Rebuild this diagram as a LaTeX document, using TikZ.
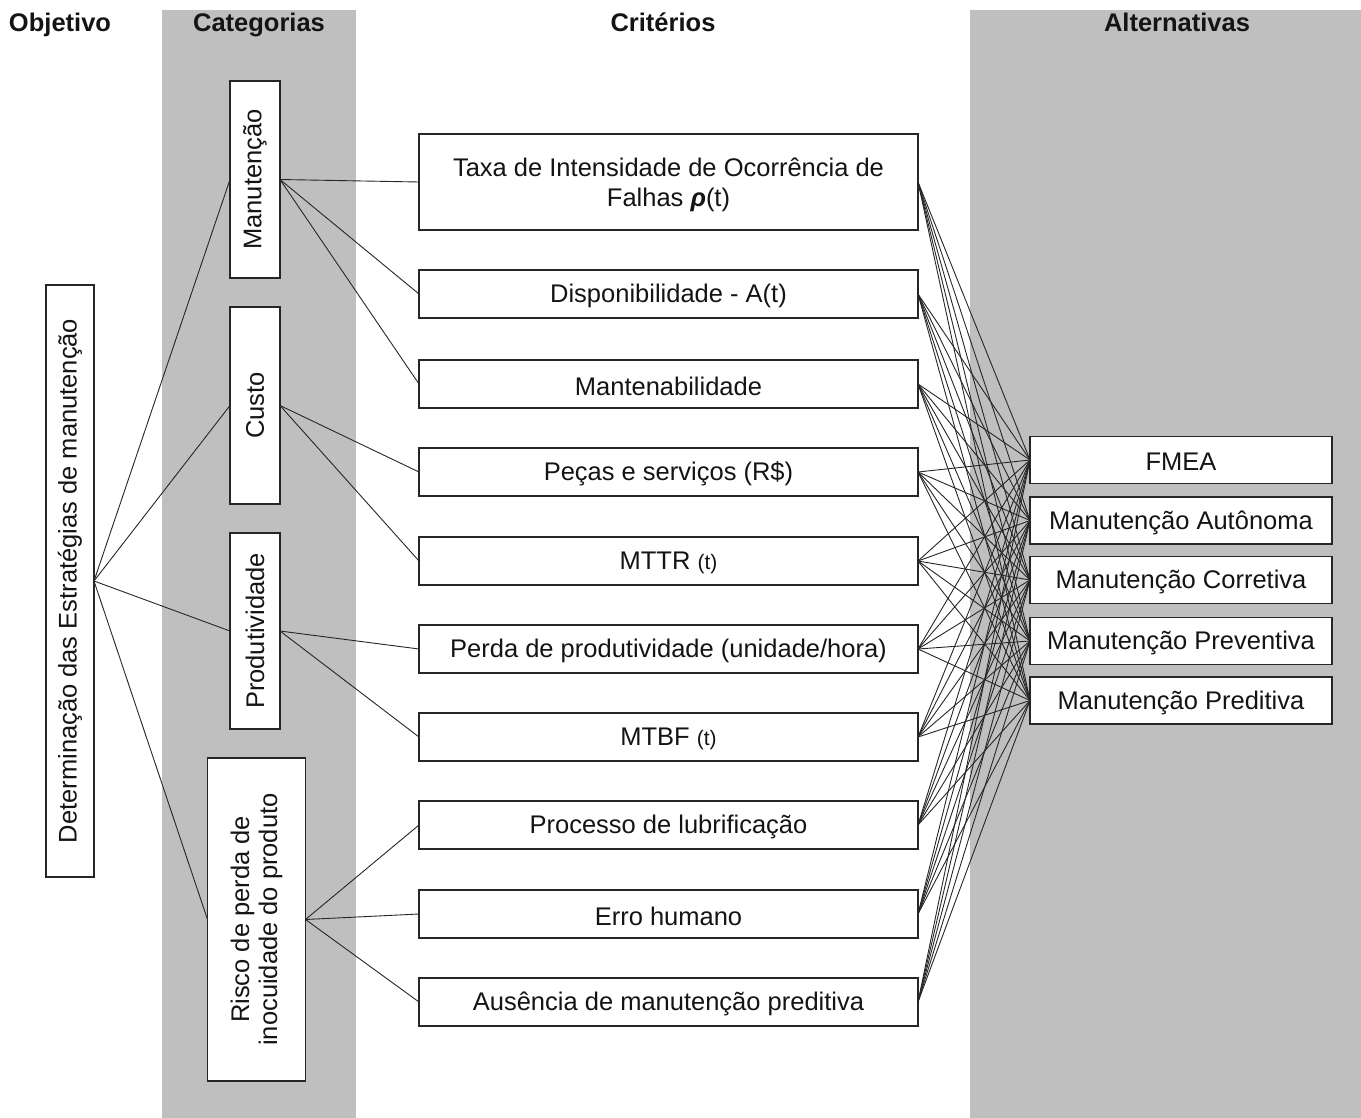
\documentclass[tikz,border=0pt]{standalone}
\usepackage{fontspec}
\setmainfont{Liberation Sans}
\definecolor{panel}{RGB}{191,191,191}
\definecolor{ink}{RGB}{20,20,20}
\begin{document}
\begin{tikzpicture}[x=1pt,y=-1pt,
  box/.style={draw=black!85,line width=1.4pt,fill=white,inner sep=0pt,outer sep=0pt},
  link/.style={draw=black!85,line width=0.9pt},
  head/.style={font=\fontsize{25.5}{30}\selectfont\bfseries,text=ink,inner sep=0pt,anchor=base},
  lbl/.style={font=\fontsize{25.5}{30}\selectfont,text=ink,inner sep=0pt,align=center,yshift=-2pt},
  vlbl/.style={font=\fontsize{25.5}{30}\selectfont,text=ink,inner sep=0pt,align=center,rotate=90},
  crit/.style={box,minimum width=499pt,minimum height=48pt},
  alt/.style={box,minimum width=302pt,minimum height=47pt},
  cat/.style={box,minimum width=50pt,minimum height=197pt}]

\path[use as bounding box] (0,0) rectangle (1361,1118);

% shaded columns
\fill[panel] (162,10) rectangle (356,1118);
\fill[panel] (970,10) rectangle (1361,1118);

% column headings
\node[head] (h-obj) at (60,32) {Objetivo};
\node[head] (h-cat) at (259,32) {Categorias};
\node[head] (h-cri) at (663,32) {Critérios};
\node[head] (h-alt) at (1177,32) {Alternativas};

% objective
\node[box,minimum width=48pt,minimum height=592pt] (obj) at (70,581) {};

% categories
\node[cat] (man) at (255,179.5) {};
\node[cat] (cus) at (255,405.5) {};
\node[cat,minimum height=196pt] (pro) at (255,631) {};
\node[box,minimum width=98pt,minimum height=323pt] (ris) at (256.5,919.5) {};

% criteria
\node[crit,minimum height=96pt] (c1) at (668.5,182) {};
\node[crit] (c2) at (668.5,294) {};
\node[crit] (c3) at (668.5,384) {};
\node[crit] (c4) at (668.5,472) {};
\node[crit] (c5) at (668.5,561) {};
\node[crit] (c6) at (668.5,649) {};
\node[crit] (c7) at (668.5,737) {};
\node[crit] (c8) at (668.5,825) {};
\node[crit] (c9) at (668.5,914) {};
\node[crit] (c10) at (668.5,1002) {};

% alternatives
\node[alt] (a1) at (1181,460) {};
\node[alt] (a2) at (1181,520.5) {};
\node[alt] (a3) at (1181,580) {};
\node[alt] (a4) at (1181,641) {};
\node[alt] (a5) at (1181,700.5) {};

% hierarchy links
\foreach \c in {man,cus,pro,ris} \draw[link] (obj.east) -- (\c.west);
\foreach \k in {c1,c2,c3} \draw[link] (man.east) -- (\k.west);
\foreach \k in {c4,c5} \draw[link] (cus.east) -- (\k.west);
\foreach \k in {c6,c7} \draw[link] (pro.east) -- (\k.west);
\foreach \k in {c8,c9,c10} \draw[link] (ris.east) -- (\k.west);
\foreach \k in {c1,c2,c3,c4,c5,c6,c7,c8,c9,c10}
  \foreach \a in {a1,a2,a3,a4,a5}
    \draw[link] (\k.east) -- (\a.west);

% redraw box outlines over the link ends
\foreach \n in {obj,man,cus,pro,ris,c1,c2,c3,c4,c5,c6,c7,c8,c9,c10,a1,a2,a3,a4,a5}
  \draw[draw=black!85,line width=1.4pt] (\n.north west) rectangle (\n.south east);

% labels
\node[vlbl] (t-obj) at (obj.center) {Determinação das Estratégias de manutenção};
\node[vlbl] (t-man) at (man.center) {Manutenção};
\node[vlbl] (t-cus) at (cus.center) {Custo};
\node[vlbl] (t-pro) at (pro.center) {Produtividade};
\node[vlbl,font=\fontsize{25.5}{28}\selectfont] (t-ris) at (ris.center) {Risco de perda de\\inocuidade do produto};

\node[lbl,yshift=-1pt] (t-c1) at (c1.center) {Taxa de Intensidade de Ocorrência de\\Falhas \textbf{\textit{ρ}}(t)};
\node[lbl] (t-c2) at (c2.center) {Disponibilidade - A(t)};
\node[lbl] (t-c3) at (c3.center) {Mantenabilidade};
\node[lbl] (t-c4) at (c4.center) {Peças e serviços (R\$)};
\node[lbl] (t-c5) at (c5.center) {MTTR {\fontsize{21}{24}\selectfont(t)}};
\node[lbl] (t-c6) at (c6.center) {Perda de produtividade (unidade/hora)};
\node[lbl] (t-c7) at (c7.center) {MTBF {\fontsize{21}{24}\selectfont(t)}};
\node[lbl] (t-c8) at (c8.center) {Processo de lubrificação};
\node[lbl] (t-c9) at (c9.center) {Erro humano};
\node[lbl] (t-c10) at (c10.center) {Ausência de manutenção preditiva};

\node[lbl] (t-a1) at (a1.center) {FMEA};
\node[lbl] (t-a2) at (a2.center) {Manutenção Autônoma};
\node[lbl] (t-a3) at (a3.center) {Manutenção Corretiva};
\node[lbl] (t-a4) at (a4.center) {Manutenção Preventiva};
\node[lbl] (t-a5) at (a5.center) {Manutenção Preditiva};
\end{tikzpicture}
\end{document}
